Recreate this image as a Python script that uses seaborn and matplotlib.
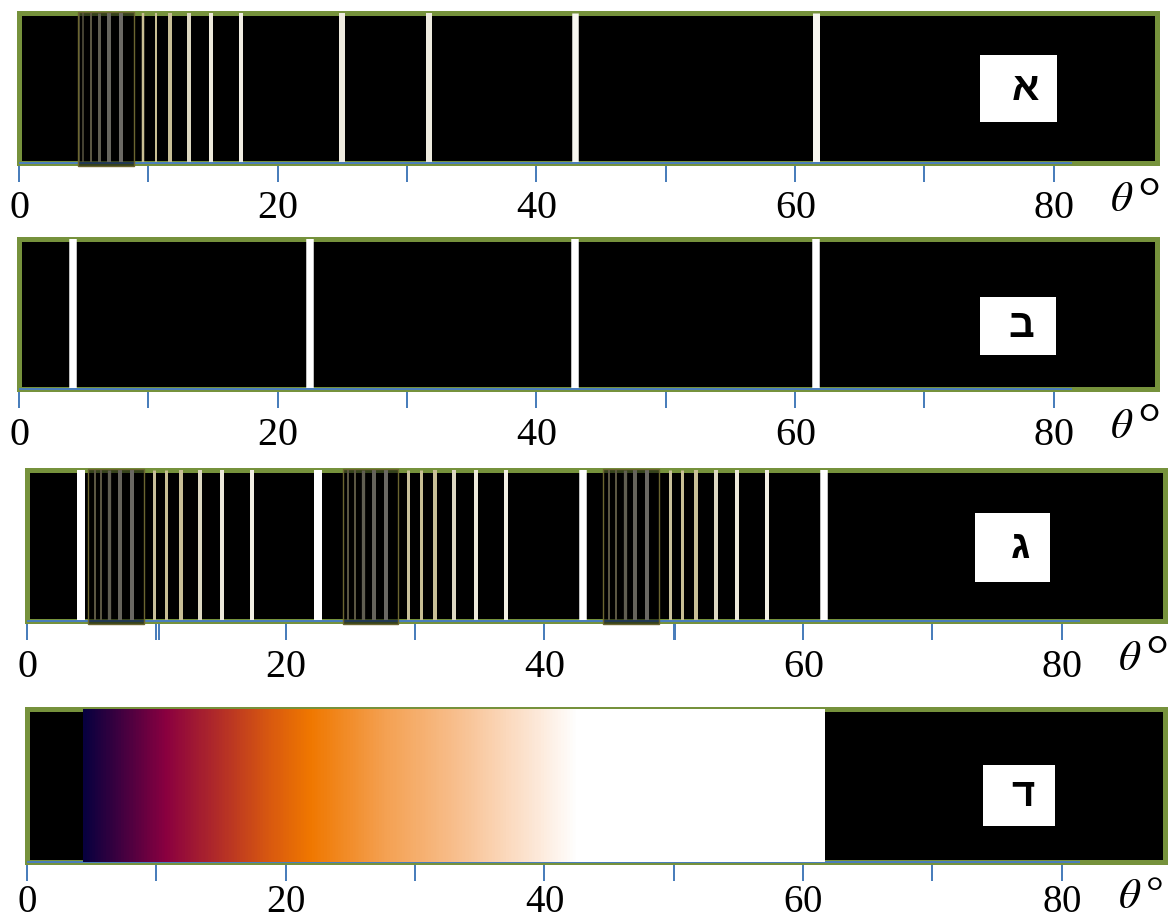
import numpy as np
import pandas as pd
import matplotlib
matplotlib.use("Agg")
import matplotlib.pyplot as plt
import matplotlib.transforms as mtransforms
from matplotlib.colors import LinearSegmentedColormap, Normalize
from matplotlib.patches import Rectangle
import seaborn as sns

# ---------------- data ----------------
panel_labels = ["א", "ב", "ג", "ד"]
tick_values = [0, 10, 20, 30, 40, 50, 60, 70, 80]
tick_labels = ["0", "", "20", "", "40", "", "60", "", "80"]
axis_end = 81.4

# panel א : line positions (degrees)
a_lines = [4.66, 4.97, 5.55, 6.19, 6.98, 7.89,
           9.58, 10.59, 11.67, 13.14, 14.84, 17.16,
           24.96, 31.7, 43.0, 61.66]
a_colors = ["#c9bf93", "#c9bf93", "#c9bf93", "#d6d0b4", "#e6e2d2", "#efece0",
            "#c9bf93", "#c9bf93", "#c8bf96", "#ddd8c0", "#eeeadb", "#f0ede2",
            "#eeebdf", "#eeebdf", "#f8f7f0", "#f8f7f0"]
a_widths_px = [1.5, 1.5, 2, 3, 4, 4,
               2.5, 2, 4, 4, 4, 4,
               6, 6, 6.5, 7]
a_boxes = [(4.56, 8.89)]

# panel ב
b_lines = [4.16, 22.5, 43.0, 61.66]
b_colors = ["#ffffff"] * 4
b_widths_px = [7.5, 7.5, 7.5, 7.5]
b_boxes = []

# panel ג
c_lines = [4.18, 5.26, 5.72, 6.34, 7.19, 8.12, 9.82, 10.75, 11.91, 13.38, 15.08, 17.4,
           22.5, 24.83, 25.37, 25.99, 26.84, 27.77, 29.49, 30.45, 31.56, 33.05, 34.71, 37.02,
           42.98, 45.03, 45.53, 46.22, 47.05, 47.95, 49.73, 50.66, 51.74, 53.26, 54.89, 57.23,
           61.66]
c_colors = ["#ffffff", "#c9bf93", "#c9bf93", "#d6d0b4", "#e0dccb", "#ebe8dc",
            "#c8c09a", "#c8bf94", "#c8bf96", "#ddd8c2", "#eeeadb", "#f2efe4",
            "#ffffff", "#c9bf93", "#c9bf93", "#d6d0b4", "#e0dccb", "#ebe8dc",
            "#c8c09a", "#c8bf94", "#c8bf96", "#ddd8c2", "#eeeadb", "#f2efe4",
            "#ffffff", "#c9bf93", "#c9bf93", "#d6d0b4", "#e0dccb", "#ebe8dc",
            "#c8c09a", "#c8bf94", "#c8bf96", "#ddd8c2", "#eeeadb", "#f2efe4",
            "#ffffff"]
c_widths_px = [8, 2, 2, 3.3, 4, 4, 3, 3, 4, 4, 4, 4,
               8, 2, 2, 3.3, 4, 4, 3, 3, 4, 4, 4, 4,
               7.5, 2, 2, 3.3, 4, 4, 3, 3, 4, 4, 4, 4,
               7.5]
c_boxes = [(4.72, 9.05), (24.44, 28.7), (44.57, 48.88)]
c_extra_ticks = [10.2, 50.12]

# panel ד : gradient colour stops (degrees)
d_stops = [4.33, 6.8, 10.6, 14.5, 18.6, 21.9, 27.5, 33.4, 39.4, 42.5, 61.66]
d_colors = ["#08003f", "#3a0040", "#8a0040", "#b02a2a", "#d85810", "#f07800",
            "#f4a050", "#f8c090", "#fde8d8", "#ffffff", "#ffffff"]

# ---------------- style ----------------
sns.set_theme(style="white")
plt.rcParams["font.family"] = ["Liberation Serif", "DejaVu Serif"]
plt.rcParams["mathtext.fontset"] = "stix"

GREEN = "#76923c"
BLUE = "#4a7ebb"
PX = 0.72  # points per pixel at dpi 100

W, H = 1169, 919
fig = plt.figure(figsize=(W / 100, H / 100), dpi=100)
fig.patch.set_facecolor("white")

# (left px, top px, bottom px)
layout = [(19, 12.5, 162.5), (19, 239, 389), (27, 470, 621), (27, 709, 862)]
label_boxes = [  # (x0, x1 in deg, y0, y1 axes fraction, letter x, letter y)
    (74.3, 80.3, 0.27, 0.717, 77.8, 0.49),
    (74.3, 80.2, 0.227, 0.613, 77.5, 0.42),
    (73.3, 79.1, 0.26, 0.715, 76.8, 0.49),
    (73.9, 79.5, 0.235, 0.634, 77.0, 0.435),
]

axes = []
for (lpx, tpx, bpx) in layout:
    ax = fig.add_axes([lpx / W, (H - bpx) / H, 1138 / W, (bpx - tpx) / H])
    axes.append(ax)

line_sets = [(a_lines, a_colors, a_widths_px, a_boxes),
             (b_lines, b_colors, b_widths_px, b_boxes),
             (c_lines, c_colors, c_widths_px, c_boxes)]

serif = ["Liberation Serif", "DejaVu Serif"]

for i, ax in enumerate(axes):
    ax.set_facecolor("black")
    trans = mtransforms.blended_transform_factory(ax.transData, ax.transAxes)

    if i < 3:
        xs, cols, wids, boxes = line_sets[i]
        df = pd.DataFrame({"theta": xs, "shade": cols})
        pal = {c: c for c in set(cols)}
        sns.rugplot(data=df, x="theta", hue="shade", palette=pal, height=1,
                    expand_margins=False, legend=False, ax=ax,
                    linewidth=[w * PX for w in wids], zorder=3)
        for (x0, x1) in boxes:
            ax.add_patch(Rectangle((x0, -0.02), x1 - x0, 1.025, transform=trans,
                                   facecolor=(0, 0, 0, 0.55), edgecolor="#6b6530",
                                   linewidth=1.0, zorder=4, clip_on=False))
    else:
        pos = [(s - d_stops[0]) / (d_stops[-1] - d_stops[0]) for s in d_stops]
        cmap = LinearSegmentedColormap.from_list("spec", list(zip(pos, d_colors)))
        vals = np.linspace(d_stops[0], d_stops[-1], 800).reshape(1, -1)
        ax.imshow(vals, extent=(d_stops[0], d_stops[-1], 0, 1), aspect="auto",
                  cmap=cmap, norm=Normalize(d_stops[0], d_stops[-1]),
                  interpolation="bilinear", zorder=3.6)

    ax.set_xlim(0, 88)
    ax.set_ylim(0, 1)
    ax.set_xlabel("")
    ax.set_ylabel("")

    # frame
    for s in ax.spines.values():
        s.set_visible(True)
        s.set_color(GREEN)
        s.set_linewidth(5 * PX)

    # blue axis line
    ax.plot([0, axis_end], [0, 0], transform=trans, color=BLUE,
            linewidth=2 * PX, clip_on=False, zorder=3.5, solid_capstyle="butt")

    last = (i == 3)
    # ticks
    ticks = list(tick_values)
    labels = [r"$\mathdefault{%s}$" % t if t else "" for t in tick_labels]
    if i == 2:
        ticks += c_extra_ticks
        labels += [""] * len(c_extra_ticks)
    ax.set_xticks(ticks)
    ax.set_xticklabels(labels)
    ax.set_yticks([])
    ax.tick_params(axis="x", which="both", direction="out", bottom=True,
                   length=19 * PX, width=2 * PX, color=BLUE,
                   pad=(3 if last else 9) * PX,
                   labelsize=28 if last else 29, labelcolor="black")
    for lbl in ax.get_xticklabels():
        lbl.set_fontfamily(serif)

    # theta label
    ax.annotate(r"$\theta$", xy=(84.4, 0), xycoords=trans,
                xytext=(0, -12 if last else -14),
                textcoords="offset points", ha="left", va="top",
                fontsize=31, color="black", annotation_clip=False, family=serif)
    ax.annotate("°", xy=(86.5 if last else 86.45, 0), xycoords=trans,
                xytext=(0, -9.5),
                textcoords="offset points", ha="left", va="top",
                fontsize=32 if last else 42, color="black",
                annotation_clip=False, family=serif)

    # letter box
    x0, x1, y0, y1, lx, ly = label_boxes[i]
    ax.add_patch(Rectangle((x0, y0), x1 - x0, y1 - y0, transform=trans,
                           facecolor="white", edgecolor="none", zorder=5))
    ax.text(lx, ly, panel_labels[i], transform=trans, ha="center", va="center",
            fontsize=29, fontweight="bold", color="black", zorder=6,
            family=["Liberation Sans", "DejaVu Sans"])

fig.savefig("out.png", dpi=100)
